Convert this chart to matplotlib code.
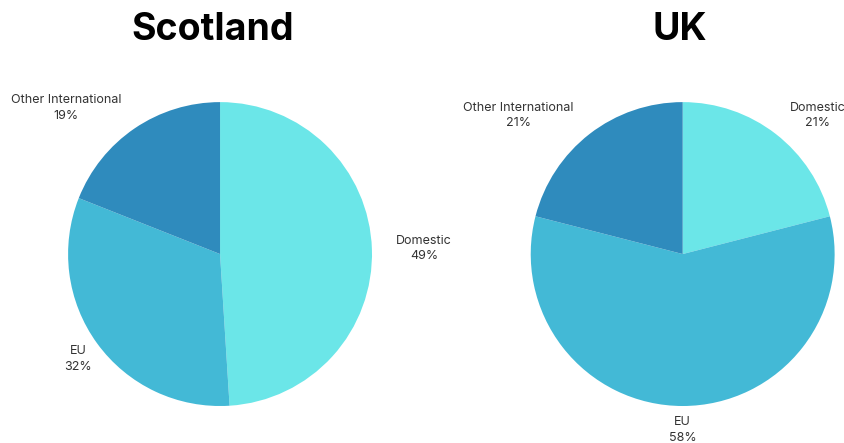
import matplotlib.pyplot as plt

# shares of each region (%)
categories = ['Domestic', 'EU', 'Other International']
scotland = [49, 32, 19]
uk = [21, 58, 21]
colors = ['#6be6e8', '#43b9d6', '#2f8bbd']

plt.rcParams['font.family'] = ['Inter', 'DejaVu Sans']

fig = plt.figure(figsize=(8.45, 4.43), dpi=100)

# label positions (data coords, pie radius = 1)
scot_label_pos = [(1.342, 0.039), (-0.934, -0.691), (-1.013, 0.961)]
uk_label_pos = [(0.888, 0.914), (0.0, -1.158), (-1.079, 0.914)]

panels = [
    ('Scotland', scotland, scot_label_pos, [0.0805, 0.0835, 0.3598, 0.686], 213),
    ('UK', uk, uk_label_pos, [0.628, 0.0835, 0.3598, 0.686], 680),
]

for title, values, label_pos, rect, title_x in panels:
    ax = fig.add_axes(rect)
    ax.pie(values, colors=colors, startangle=90, counterclock=False,
           wedgeprops=dict(linewidth=0))
    ax.set_xlim(-1, 1)
    ax.set_ylim(-1, 1)
    ax.set_aspect('equal')
    for name, v, (x, y) in zip(categories, values, label_pos):
        ax.text(x, y, f'{name}\n{v}%', ha='center', va='center', fontsize=9,
                color='#333333', linespacing=1.35, clip_on=False)
    fig.text(title_x / 845, 1 - 30 / 443, title, ha='center', va='center',
             fontsize=27, fontweight='bold', color='black')

fig.savefig('out.png', dpi=100)
